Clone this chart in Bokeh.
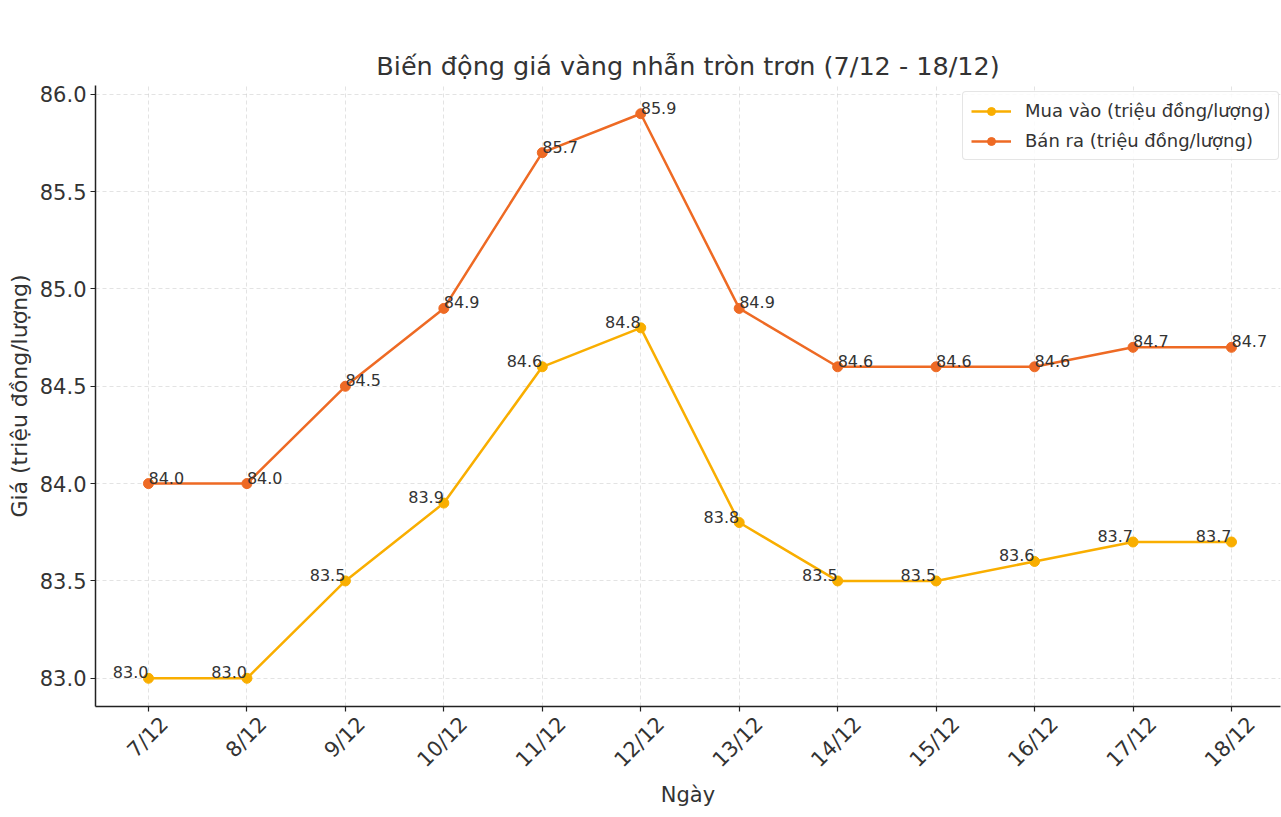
import math
from bokeh.plotting import figure
from bokeh.models import (ColumnDataSource, FixedTicker, Range1d, LabelSet, Legend, LegendItem,
                          CustomJSTickFormatter, LinearAxis, CustomLabelingPolicy)
from bokeh.core.properties import value
from bokeh.embed import file_html
from bokeh.resources import INLINE

days = ["7/12", "8/12", "9/12", "10/12", "11/12", "12/12", "13/12", "14/12", "15/12", "16/12", "17/12", "18/12"]
buy = [83.0, 83.0, 83.5, 83.9, 84.6, 84.8, 83.8, 83.5, 83.5, 83.6, 83.7, 83.7]
sell = [84.0, 84.0, 84.5, 84.9, 85.7, 85.9, 84.9, 84.6, 84.6, 84.6, 84.7, 84.7]
y_ticks = [83.0, 83.5, 84.0, 84.5, 85.0, 85.5, 86.0]

FONT = "DejaVu Sans"
BUY_C = "#F9AE00"
SELL_C = "#EE6A24"
TXT = "#333333"

xs = list(range(len(days)))
src = ColumnDataSource(dict(x=xs, day=days, buy=buy, sell=sell,
                            buy_lbl=[f"{v:.1f}" for v in buy],
                            sell_lbl=[f"{v:.1f}" for v in sell]))

n = len(days)
lo = min(buy); hi = max(sell)
pad = (hi - lo) * 0.05
p = figure(width=1281, height=817, output_backend="svg", toolbar_location=None,
           x_range=Range1d(-0.538, n - 1 + 0.498), y_range=Range1d(lo - pad, hi + pad),
           min_border_left=95, min_border_right=1, min_border_top=85, min_border_bottom=111)
p.outline_line_color = None
p.background_fill_color = "white"
p.border_fill_color = "white"

p.title.text = "Biến động giá vàng nhẫn tròn trơn (7/12 - 18/12)"
p.title.text_font = FONT
p.title.text_font_size = "25.5px"
p.title.text_font_style = "normal"
p.title.text_color = TXT
p.title.align = "center"
p.title.offset = 0
p.title.standoff = 10

# grid
for g in (p.xgrid, p.ygrid):
    g.grid_line_color = "#b0b0b0"
    g.grid_line_alpha = 0.35
    g.grid_line_dash = "4 3"
    g.grid_line_width = 1

# axes
p.xaxis.ticker = FixedTicker(ticks=xs)
p.yaxis.ticker = FixedTicker(ticks=y_ticks)
p.yaxis.formatter = CustomJSTickFormatter(code="return tick.toFixed(1);")
for ax in (p.xaxis[0], p.yaxis[0]):
    ax.axis_line_color = "#222222"
    ax.axis_line_width = 1.5
    ax.major_tick_line_color = "#222222"
    ax.major_tick_line_width = 1.2
    ax.major_tick_out = 5
    ax.major_tick_in = 0
    ax.minor_tick_line_color = None
    ax.axis_label_text_font = FONT
    ax.axis_label_text_font_style = "normal"
    ax.axis_label_text_color = TXT
    ax.major_label_text_font = FONT
    ax.major_label_text_color = TXT
    ax.major_label_text_font_size = "21px"

p.yaxis.major_label_standoff = 4
p.yaxis.axis_label = "Giá (triệu đồng/lượng)"
p.yaxis.axis_label_text_font_size = "22px"
p.yaxis.axis_label_standoff = 5

# main x axis: ticks only, labels suppressed
p.xaxis.major_label_policy = CustomLabelingPolicy(code="return new Set();")
p.xaxis.major_label_text_font_size = "1px"
p.xaxis.major_label_standoff = 0

# label axis: rotated labels centred on their ticks (shifted tick positions)
shift_px = {4: 16.0, 5: 20.0}
unit_px = 98.45
lab_ticks = [i + shift_px[len(d)] / unit_px for i, d in enumerate(days)]
lab_axis = LinearAxis(ticker=FixedTicker(ticks=lab_ticks),
                      formatter=CustomJSTickFormatter(args=dict(labels=days),
                                                      code="return labels[Math.round(tick)];"))
lab_axis.axis_line_color = None
lab_axis.major_tick_line_color = None
lab_axis.minor_tick_line_color = None
lab_axis.major_tick_out = 0
lab_axis.major_tick_in = 0
lab_axis.major_label_orientation = math.pi / 4
lab_axis.major_label_standoff = 5
lab_axis.major_label_text_font = FONT
lab_axis.major_label_text_font_size = "21px"
lab_axis.major_label_text_color = TXT
lab_axis.axis_label = "Ngày"
lab_axis.axis_label_text_font = FONT
lab_axis.axis_label_text_font_size = "21px"
lab_axis.axis_label_text_font_style = "normal"
lab_axis.axis_label_text_color = TXT
lab_axis.axis_label_standoff = 0
p.add_layout(lab_axis, "below")

r_buy = p.line("x", "buy", source=src, line_color=BUY_C, line_width=2.5)
c_buy = p.scatter("x", "buy", source=src, size=10, fill_color=BUY_C, line_color=BUY_C)
r_sell = p.line("x", "sell", source=src, line_color=SELL_C, line_width=2.5)
c_sell = p.scatter("x", "sell", source=src, size=10, fill_color=SELL_C, line_color=SELL_C)

p.add_layout(LabelSet(x="x", y="buy", text="buy_lbl", source=src, text_align="right",
                      text_baseline="alphabetic", text_font=value(FONT), text_font_size="16px",
                      text_color=TXT))
p.add_layout(LabelSet(x="x", y="sell", text="sell_lbl", source=src, text_align="left",
                      text_baseline="alphabetic", text_font=value(FONT), text_font_size="16px",
                      text_color=TXT))

legend = Legend(items=[LegendItem(label="Mua vào (triệu đồng/lượng)", renderers=[r_buy, c_buy]),
                       LegendItem(label="Bán ra (triệu đồng/lượng)", renderers=[r_sell, c_sell])],
                location=(867, 546))
legend.label_text_font = FONT
legend.label_text_font_size = "18px"
legend.label_text_color = TXT
legend.border_line_color = "#cccccc"
legend.border_line_width = 1
legend.border_radius = 4
legend.background_fill_alpha = 0.85
legend.padding = 8
legend.spacing = 9
legend.margin = 0
legend.glyph_width = 40
legend.label_standoff = 14
p.add_layout(legend)

open("out.html", "w").write(file_html(p, INLINE))
